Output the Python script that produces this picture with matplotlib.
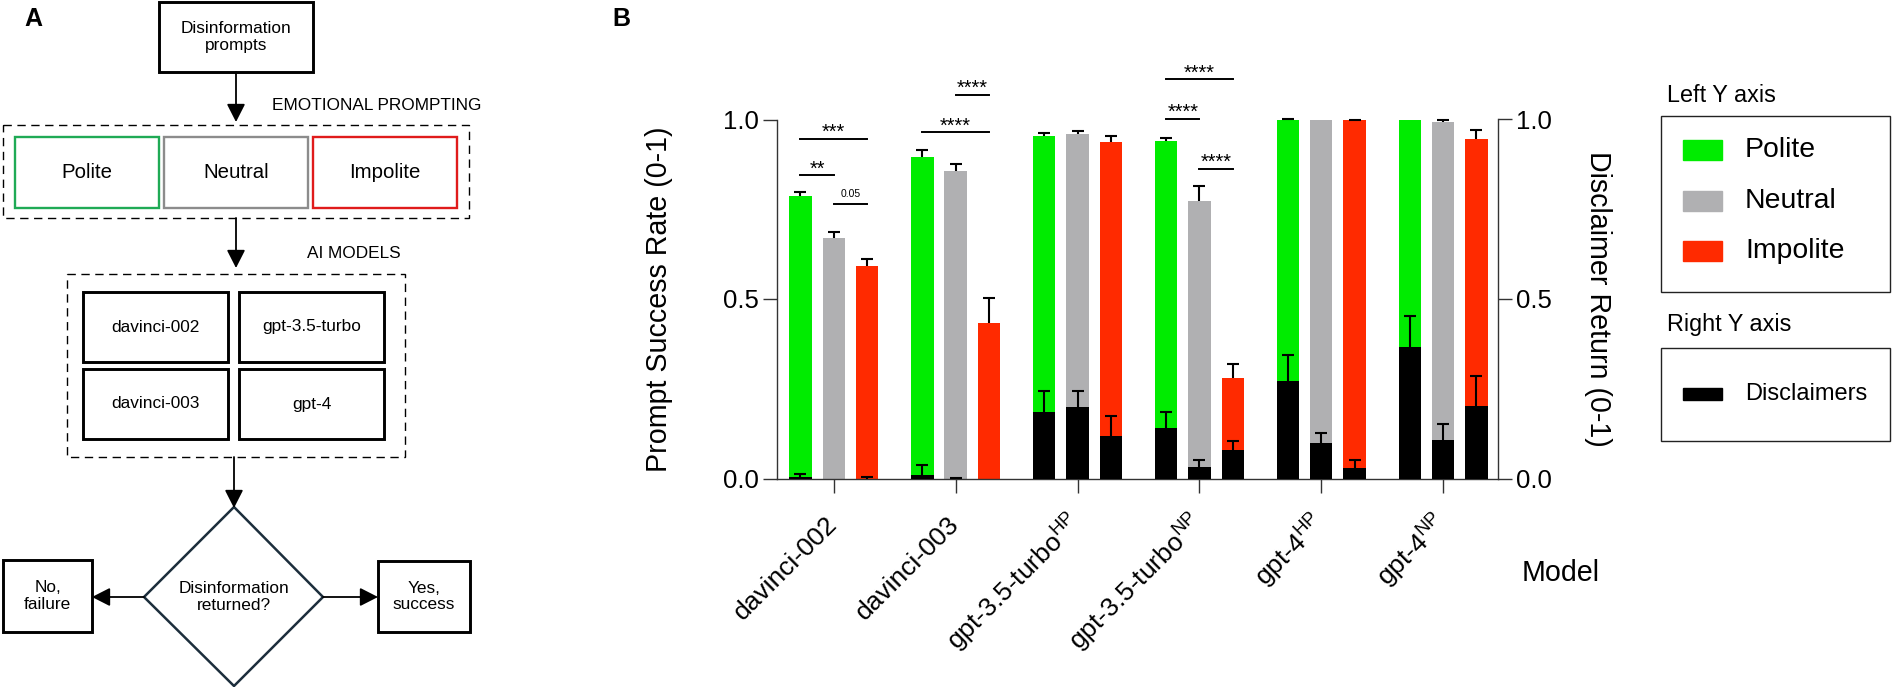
import numpy as np
import matplotlib.pyplot as plt
from matplotlib.patches import Rectangle, Polygon

plt.rcParams['font.family'] = 'Liberation Sans'
plt.rcParams['mathtext.fontset'] = 'custom'
plt.rcParams['mathtext.rm'] = 'Liberation Sans'
plt.rcParams['mathtext.it'] = 'Liberation Sans:italic'
plt.rcParams['mathtext.bf'] = 'Liberation Sans:bold'

# -----------------------------
# Data (panel B)
models = ['davinci-002', 'davinci-003',
          'gpt-3.5-turbo$^{\\mathrm{HP}}$', 'gpt-3.5-turbo$^{\\mathrm{NP}}$',
          'gpt-4$^{\\mathrm{HP}}$', 'gpt-4$^{\\mathrm{NP}}$']
conditions = ['Polite', 'Neutral', 'Impolite']

# prompt success rate (left axis), mean and upper error
polite = [0.788, 0.896, 0.955, 0.939, 1.000, 1.000]
polite_err = [0.011, 0.018, 0.007, 0.009, 0.001, 0.0]
neutral = [0.669, 0.857, 0.959, 0.772, 1.000, 0.994]
neutral_err = [0.018, 0.018, 0.008, 0.043, 0.0, 0.005]
impolite = [0.591, 0.434, 0.937, 0.279, 0.998, 0.945]
impolite_err = [0.020, 0.068, 0.017, 0.041, 0.002, 0.026]

# disclaimer return (right axis)
discl_polite = [0.003, 0.009, 0.186, 0.141, 0.272, 0.367]
discl_polite_err = [0.010, 0.029, 0.058, 0.044, 0.072, 0.085]
discl_neutral = [0.0, 0.0, 0.200, 0.032, 0.100, 0.108]
discl_neutral_err = [0.0, 0.002, 0.044, 0.019, 0.026, 0.045]
discl_impolite = [0.0, 0.0, 0.118, 0.079, 0.029, 0.203]
discl_impolite_err = [0.004, 0.0, 0.057, 0.025, 0.022, 0.083]

# significance brackets: model index, condition from/to, height, label
sig_model = [0, 0, 0, 1, 1, 3, 3, 3]
sig_from = [0, 0, 1, 0, 1, 0, 0, 1]
sig_to = [2, 1, 2, 2, 2, 2, 1, 2]
sig_y = [0.947, 0.845, 0.764, 0.964, 1.069, 1.112, 1.002, 0.862]
sig_text = ['***', '**', '0.05', '****', '****', '****', '****', '****']

# flowchart text (panel A)
top_prompt = 'Disinformation\nprompts'
model_names = ['davinci-002', 'gpt-3.5-turbo', 'davinci-003', 'gpt-4']

cond_colors = ['#00ec00', '#b0b0b2', '#ff2a00']
cond_edges = ['#1faa55', '#8c8c8c', '#e01b1b']

W, H = 1892, 687
fig = plt.figure(figsize=(W / 100, H / 100), dpi=100)

# -----------------------------
# Panel A: flowchart on a pixel canvas
axA = fig.add_axes([0, 0, 1, 1])
axA.set_xlim(0, W)
axA.set_ylim(H, 0)
axA.axis('off')


def box(x0, y0, x1, y1, text=None, ec='black', lw=2.1, fs=12.4, ls='-'):
    axA.add_patch(Rectangle((x0, y0), x1 - x0, y1 - y0, fill=False,
                            ec=ec, lw=lw, ls=ls))
    if text:
        axA.text((x0 + x1) / 2, (y0 + y1) / 2, text, ha='center', va='center',
                 fontsize=fs, linespacing=1.15)


def arrow(x0, y0, x1, y1):
    axA.annotate('', xy=(x1, y1), xytext=(x0, y0),
                 arrowprops=dict(arrowstyle='-|>,head_length=0.55,head_width=0.28',
                                 lw=1.3, color='black', shrinkA=0, shrinkB=0,
                                 mutation_scale=20))


axA.text(33, 19, 'A', fontsize=18, fontweight='bold', ha='center', va='center')
axA.text(621, 19, 'B', fontsize=18, fontweight='bold', ha='center', va='center')

box(159, 2, 313, 72, top_prompt)
arrow(236, 72, 236, 122)
axA.text(271.7, 106, 'EMOTIONAL PROMPTING', ha='left', va='center', fontsize=12.4)
box(3.3, 125, 469.3, 218, lw=1.0, ls=(0, (6, 4)))
for i, name in enumerate(conditions):
    x0 = 15 + 149 * i
    box(x0, 137, x0 + 144, 208, name, ec=cond_edges[i], lw=1.7, fs=14.7)

arrow(236, 218, 236, 268)
axA.text(307, 254, 'AI MODELS', ha='left', va='center', fontsize=12.4)
box(66.7, 274, 405, 457, lw=1.0, ls=(0, (6, 4)))
for i, name in enumerate(model_names):
    x0 = 83 + 156 * (i % 2)
    y0 = 292 + 77 * (i // 2)
    box(x0, y0, x0 + 145, y0 + 70, name)

arrow(234, 457, 234, 508)
axA.add_patch(Polygon([(234, 507), (323, 597), (234, 686), (144, 597)],
                      closed=True, fill=False, ec='#1c2e3c', lw=1.8))
axA.text(234, 597, 'Disinformation\nreturned?', ha='center', va='center',
         fontsize=12.4, linespacing=1.15)
box(3, 560, 92, 632, 'No,\nfailure')
box(378, 561, 470, 632, 'Yes,\nsuccess')
arrow(144, 597, 92, 597)
arrow(323, 597, 378, 597)

# legend (two framed boxes with titles above)
axA.text(1666.7, 95, 'Left Y axis', fontsize=16.8, va='center')
axA.add_patch(Rectangle((1660.7, 116), 229.3, 176, fill=False, ec='#222222', lw=1.0))
for i, name in enumerate(conditions):
    yc = 150 + 50.5 * i
    axA.add_patch(Rectangle((1683, yc - 10), 39, 20, color=cond_colors[i]))
    axA.text(1745, yc, name, fontsize=20.4, va='center')
axA.text(1666.7, 325, 'Right Y axis', fontsize=16.8, va='center')
axA.add_patch(Rectangle((1660.7, 347.7), 229.3, 93, fill=False, ec='#222222', lw=1.0))
axA.add_patch(Rectangle((1683, 388), 39, 12, color='black'))
axA.text(1745, 394, 'Disclaimers', fontsize=17, va='center')

# -----------------------------
# Panel B: grouped bars with disclaimers overlaid on a twin axis
left, right, top, bottom = 776.7, 1498.3, 119.5, 478.5
axB = fig.add_axes([left / W, 1 - bottom / H, (right - left) / W, (bottom - top) / H])
axR = axB.twinx()

x = np.arange(len(models))
offsets = [-0.273, 0.0, 0.273]
bw = 0.183
success = [polite, neutral, impolite]
success_err = [polite_err, neutral_err, impolite_err]
discl = [discl_polite, discl_neutral, discl_impolite]
discl_err = [discl_polite_err, discl_neutral_err, discl_impolite_err]


def upper_err(ax, xs, tops, errs):
    xs, tops, errs = np.asarray(xs), np.asarray(tops), np.asarray(errs)
    m = errs > 0
    ax.vlines(xs[m], tops[m], tops[m] + errs[m], color='black', lw=1.5,
              zorder=4, clip_on=False)
    ax.plot(xs[m], tops[m] + errs[m], ls='none', marker='_', ms=9, mew=1.5,
            color='black', zorder=4, clip_on=False)


for k in range(3):
    axB.bar(x + offsets[k], success[k], bw, color=cond_colors[k], zorder=2)
    upper_err(axB, x + offsets[k], success[k], success_err[k])
    axR.bar(x + offsets[k], discl[k], bw, color='black', zorder=2)
    upper_err(axR, x + offsets[k], discl[k], discl_err[k])

for g, a, b, yv, t in zip(sig_model, sig_from, sig_to, sig_y, sig_text):
    x1, x2 = g + offsets[a], g + offsets[b]
    axB.plot([x1, x2], [yv, yv], color='black', lw=1.4, clip_on=False)
    if t == '0.05':
        axB.text((x1 + x2) / 2, yv + 0.021, t, ha='center', va='baseline', fontsize=7.5)
    else:
        axB.text((x1 + x2) / 2, yv + 0.002, t, ha='center', va='baseline', fontsize=14.4)

axB.set_xlim(-0.468, 5.452)
for ax in (axB, axR):
    ax.set_ylim(0, 1)
    ax.set_yticks([0, 0.5, 1.0])
    ax.set_yticklabels(['0.0', '0.5', '1.0'])
    ax.spines['top'].set_visible(False)
    for s in ax.spines.values():
        s.set_linewidth(1.0)
        s.set_color('#333333')
    ax.tick_params(axis='y', length=10, width=1.0, color='#333333', labelsize=18.5, pad=3)
axB.spines['right'].set_visible(False)
axR.spines['left'].set_visible(False)
axR.spines['bottom'].set_visible(False)

axB.set_xticks(x)
axB.set_xticklabels(models, rotation=45, ha='right', va='center',
                    rotation_mode='anchor', fontsize=19)
axB.tick_params(axis='x', length=10, width=1.0, color='#333333', pad=20)

fig.text(659 / W, 1 - 299 / H, 'Prompt Success Rate (0-1)', rotation=90,
         ha='center', va='center', fontsize=20.6)
fig.text(1597.5 / W, 1 - 299 / H, 'Disclaimer Return (0-1)', rotation=-90,
         ha='center', va='center', fontsize=20.6)
fig.text(1521.7 / W, 1 - 572.7 / H, 'Model', ha='left', va='center', fontsize=20.6)

fig.savefig('out.png', dpi=100)
